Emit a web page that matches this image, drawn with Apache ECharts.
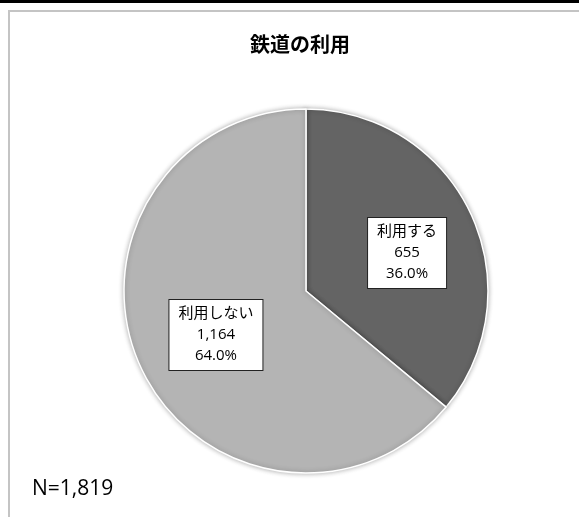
<!DOCTYPE html>
<html>
<head>
<meta charset="utf-8">
<script src="https://cdn.jsdelivr.net/npm/echarts@6/dist/echarts.min.js"></script>
<style>
  html, body { margin: 0; padding: 0; background: #fff; }
  #chart { width: 579px; height: 517px; }
</style>
</head>
<body>
<div id="chart"></div>
<script>
// Railway usage survey: share of respondents who use / do not use the railway
const categories = ['利用する', '利用しない'];
const counts = [655, 1164];
const sliceColors = ['#646464', '#b4b4b4'];
const titleText = '鉄道の利用';
const sampleNote = 'N=1,819';

const total = counts.reduce((a, b) => a + b, 0);
const fmtInt = v => v.toLocaleString('en-US');

// small per-slice nudges of the value boxes
const labelNudge = [[16, 2], [-5, 4]];

const chart = echarts.init(document.getElementById('chart'), null, { renderer: 'canvas' });

chart.setOption({
  backgroundColor: '#ffffff',
  animation: false,
  title: {
    text: titleText,
    left: 295,
    textAlign: 'center',
    top: 29,
    textStyle: {
      fontFamily: '"Noto Sans CJK JP", sans-serif',
      fontSize: 20,
      fontWeight: 'bold',
      color: '#000'
    }
  },
  graphic: [
    // top rule
    { type: 'rect', shape: { x: 0, y: 0, width: 579, height: 3 }, style: { fill: '#000' }, silent: true },
    // frame edges
    { type: 'rect', shape: { x: 8, y: 10, width: 571, height: 2 }, style: { fill: '#c4c4c4' }, silent: true },
    { type: 'rect', shape: { x: 8, y: 10, width: 2, height: 507 }, style: { fill: '#c4c4c4' }, silent: true },
    {
      type: 'text',
      left: 32,
      top: 479,
      style: {
        text: sampleNote,
        fontFamily: '"Open Sans", "Noto Sans", sans-serif',
        fontSize: 21,
        fill: '#000'
      }
    }
  ],
  series: [{
    type: 'pie',
    center: [306, 291],
    radius: [0, 182],
    startAngle: 90,
    clockwise: true,
    data: categories.map((name, i) => ({
      name: name,
      value: counts[i],
      itemStyle: { color: sliceColors[i] }
    })),
    itemStyle: {
      borderColor: '#ffffff',
      borderWidth: 1.5,
      shadowBlur: 5,
      shadowColor: 'rgba(0,0,0,0.3)'
    },
    label: {
      show: true,
      position: 'inside',
      formatter: p => p.name + '\n' + fmtInt(p.value) + '\n' + (p.value / total * 100).toFixed(1) + '%',
      fontFamily: '"Open Sans", "Noto Sans CJK JP", sans-serif',
      fontSize: 15,
      lineHeight: 21,
      color: '#000',
      align: 'center',
      backgroundColor: '#ffffff',
      borderColor: '#222',
      borderWidth: 1,
      padding: [4, 9, 3, 9]
    },
    labelLayout: p => ({ dx: labelNudge[p.dataIndex][0], dy: labelNudge[p.dataIndex][1] }),
    labelLine: { show: false },
    emphasis: { disabled: true }
  }]
});
</script>
</body>
</html>
